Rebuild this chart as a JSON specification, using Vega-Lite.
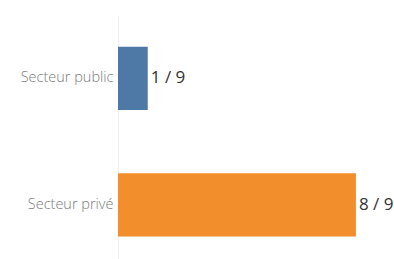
{
  "$schema": "https://vega.github.io/schema/vega-lite/v6.json",
  "autosize": "none",
  "padding": {"left": 118, "top": 15, "right": 0, "bottom": 0},
  "width": 276,
  "height": 253,
  "background": "white",
  "data": {"values": [
    {"secteur": "Secteur public", "n": 1, "label": "1 / 9"},
    {"secteur": "Secteur privé", "n": 8, "label": "8 / 9"}
  ]},
  "encoding": {
    "y": {"field": "secteur", "type": "nominal", "sort": ["Secteur public", "Secteur privé"],
      "scale": {"paddingInner": 0.5, "paddingOuter": 0.25},
      "axis": {"title": null, "ticks": false, "domainColor": "#eeeeee", "labelColor": "#7a7a7a", "labelFont": "Open Sans", "labelFontSize": 14.5, "labelFontWeight": 300, "labelPadding": 5}},
    "x": {"field": "n", "type": "quantitative", "scale": {"domain": [0, 9.28]}, "axis": null}
  },
  "layer": [
    {"mark": {"type": "bar", "clip": true},
     "encoding": {"color": {"field": "secteur", "type": "nominal", "scale": {"domain": ["Secteur public", "Secteur privé"], "range": ["#4e79a7", "#f28e2b"]}, "legend": null}}},
    {"mark": {"type": "text", "align": "left", "baseline": "middle", "dx": 3, "fontSize": 17, "font": "Open Sans", "color": "#333333"},
     "encoding": {"text": {"field": "label"}}}
  ],
  "config": {"view": {"stroke": null}, "axis": {"grid": false}}
}
